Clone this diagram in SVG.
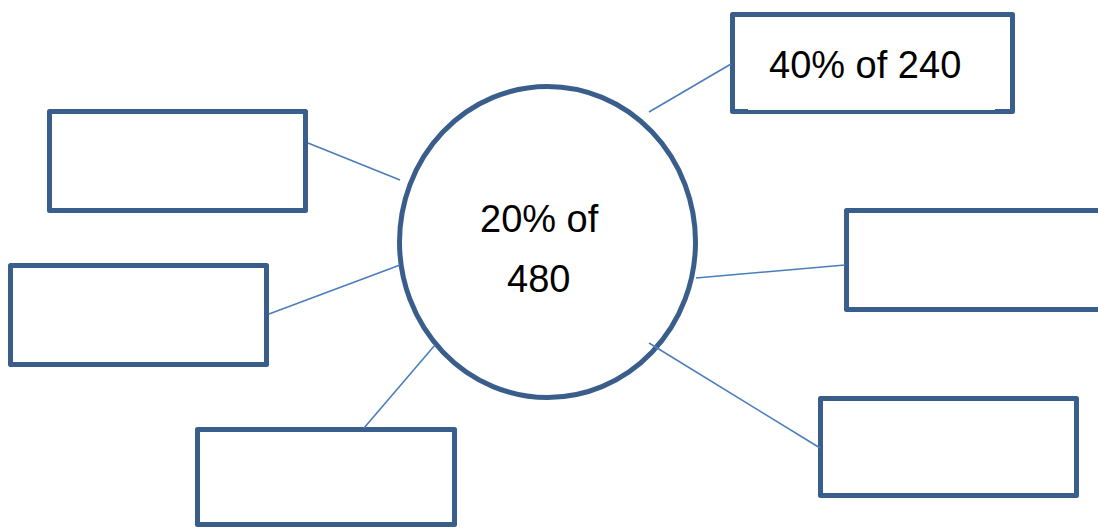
<svg xmlns="http://www.w3.org/2000/svg" width="1098" height="528" viewBox="0 0 1098 528">
<style>
.box{fill:#fff;stroke:#3A5E8C;stroke-width:5;stroke-linejoin:round}
.conn{stroke:#4A7EBB;stroke-width:1.6;fill:none}
.lbl{font-family:"Liberation Sans",Arial,sans-serif;font-size:38px;fill:#000}
</style>
<rect width="1098" height="528" fill="#fff"/>
<g id="center">
<ellipse class="box" cx="547.5" cy="242" rx="148" ry="155.5"/>
<text class="lbl" x="480" y="232">20% of</text>
<text class="lbl" x="507" y="292">480</text>
</g>
<g id="box-top-right">
<rect class="box" x="732.5" y="14.5" width="280" height="97"/>
<rect x="748" y="107.5" width="247" height="2.5" fill="#fff"/>
<text class="lbl" x="769" y="78">40% of 240</text>
</g>
<g id="box-left-top">
<rect class="box" x="49.5" y="111.5" width="256" height="99"/>
</g>
<g id="box-left-mid">
<rect class="box" x="10.5" y="265.5" width="256" height="99"/>
</g>
<g id="box-bottom">
<rect class="box" x="197.5" y="429.5" width="257" height="95"/>
</g>
<g id="box-right-mid">
<rect class="box" x="846.5" y="210.5" width="260" height="99"/>
</g>
<g id="box-right-bottom">
<rect class="box" x="820.5" y="398.5" width="256" height="97"/>
</g>
<g id="connectors">
<line class="conn" x1="649" y1="112" x2="731" y2="64"/>
<line class="conn" x1="308" y1="143" x2="400" y2="180"/>
<line class="conn" x1="269" y1="314" x2="400" y2="265"/>
<line class="conn" x1="364" y1="428" x2="435" y2="345"/>
<line class="conn" x1="696" y1="278" x2="845" y2="265"/>
<line class="conn" x1="649" y1="343" x2="820" y2="448"/>
</g>
</svg>
